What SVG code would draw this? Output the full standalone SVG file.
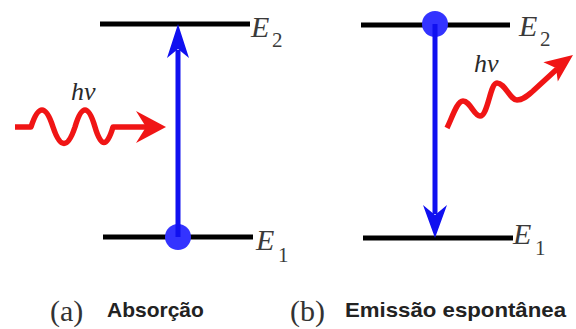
<svg xmlns="http://www.w3.org/2000/svg" width="576" height="329" viewBox="0 0 576 329">
<style>
.lvl{stroke:#000;stroke-width:5;fill:none}
.tr{stroke:#1010f0;stroke-width:5;fill:none}
.ah{fill:#1010f0}
.dot{fill:#3333ff}
.wave{stroke:#f01515;stroke-width:5.5;fill:none;stroke-linejoin:round}
.wh{fill:#f01515}
.E{font-family:"Liberation Serif",serif;font-style:italic;font-size:30px;fill:#3a3a3a}
.sub{font-family:"Liberation Serif",serif;font-size:21px;fill:#3a3a3a}
.hv{font-family:"Liberation Serif",serif;font-style:italic;font-size:26px;fill:#2a2a2a}
.pl{font-family:"Liberation Serif",serif;font-size:30px;fill:#333}
.cap{font-family:"Liberation Sans",Arial,sans-serif;font-weight:bold;font-size:21px;fill:#222}
</style>
<rect width="576" height="329" fill="#fff"/>
<g id="panel-a">
  <g id="a-E2"><line class="lvl" x1="100" y1="24" x2="250" y2="24"/><text class="E" x="251" y="37">E</text><text class="sub" x="272" y="47">2</text></g>
  <g id="a-E1"><line class="lvl" x1="103" y1="237" x2="253" y2="237"/><text class="E" x="256" y="250">E</text><text class="sub" x="278" y="262">1</text></g>
  <g id="a-electron"><circle class="dot" cx="178" cy="237" r="13"/></g>
  <g id="a-photon">
    <path class="wave" d="M15,127 H31 Q42,93 53,127 Q64,160 75,127 Q85,93 95,127 Q104,158 113,127 H148"/>
    <path class="wh" d="M166,127 L136,111 L146,127 L136,143 Z"/>
    <text class="hv" x="71" y="100">hν</text>
  </g>
  <text class="pl" x="50" y="321">(a)</text>
  <text class="cap" x="107" y="317">Absorção</text>
</g>
<g id="panel-b">
  <g id="b-E2"><line class="lvl" x1="361" y1="25" x2="510" y2="25"/><text class="E" x="519" y="36">E</text><text class="sub" x="540" y="46">2</text></g>
  <g id="b-E1"><line class="lvl" x1="363" y1="238" x2="513" y2="238"/><text class="E" x="513" y="244">E</text><text class="sub" x="535" y="255">1</text></g>
  <g id="b-electron"><circle class="dot" cx="435" cy="24" r="13"/></g>
  <g id="b-photon">
    <path class="wave" d="M447,128 C452,118 457,101 463,101 C470,101 474,116 480,116 C488,116 490,83 497,83 C505,83 510,100 517,100 C523,100 527,96 533,91 L557,69"/>
    <path class="wh" d="M573,55 L557.8,81.4 L556,68 L543.4,62.2 Z"/>
    <text class="hv" x="474" y="72">hν</text>
  </g>
  <text class="pl" x="290" y="321">(b)</text>
  <text class="cap" x="345" y="317" textLength="221" lengthAdjust="spacingAndGlyphs">Emissão espontânea</text>
</g>
<g id="connectors">
  <line class="tr" x1="178" y1="237" x2="178" y2="50"/>
  <path class="ah" d="M178,24 L189,58 L178,49 L167,58 Z"/>
  <line class="tr" x1="435" y1="24" x2="435" y2="214"/>
  <path class="ah" d="M435,238 L423,205 L435,215 L447,205 Z"/>
</g>
</svg>
